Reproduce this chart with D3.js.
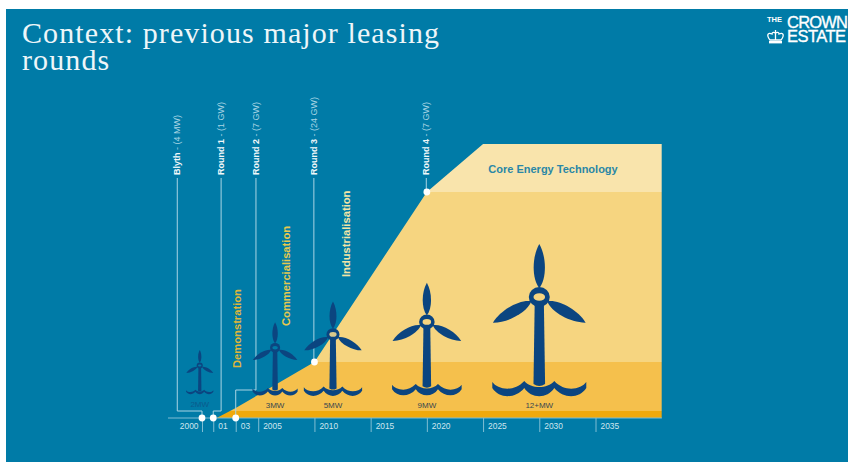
<!DOCTYPE html>
<html><head><meta charset="utf-8">
<style>html,body{margin:0;padding:0;background:#fff}svg{display:block}</style>
<script src="https://cdn.jsdelivr.net/npm/d3@7/dist/d3.min.js"></script></head>
<body><svg id="c" width="848" height="462"></svg>
<script>
// --- data ---
const tickYears = [2000, 2001, 2003, 2005, 2010, 2015, 2020, 2025, 2030, 2035];
const tickLabels = ["2000", "01", "03", "2005", "2010", "2015", "2020", "2025", "2030", "2035"];
const curveYears = [2001.3, 2003, 2010, 2020, 2025, 2040.9];
const curveLevel = [0, 10, 56, 226, 274, 274];
const bandTops = [7, 56, 226, 274];
const rounds = ["Blyth", "Round 1", "Round 2", "Round 3", "Round 4"];
const roundSizes = ["(4 MW)", "(1 GW)", "(7 GW)", "(24 GW)", "(7 GW)"];
const roundYears = [2000, 2001, 2003, 2010, 2020];
const roundLevels = [0, 0, 0, 56, 226];
const roundLabelYears = [1997.8, 2001.7, 2004.8, 2009.95, 2019.95];
const phases = ["Demonstration", "Commercialisation", "Industrialisation"];
const phaseYears = [2003.47, 2007.8, 2013.16];
const phaseLevels = [50, 92, 141];
const turbineYears = [1999.8, 2006.5, 2011.65, 2020, 2030];
const turbineLabels = ["2MW", "3MW", "5MW", "9MW", "12+MW"];
const turbineMW = [2, 3, 5, 9, 12];
const turbineRelSize = [0.29, 0.48, 0.62, 0.74, 1];
const turbineBaseLevels = [27, 28, 29, 31, 33];

const bandColors = ["#f0a90c", "#f5c04c", "#f6d580", "#f9e4ac"];
const bg = "#007ba7", navy = "#0b4580", lead = "#a9d5e4";
const sans = "'Liberation Sans',Arial,sans-serif";

const svg = d3.select("#c");
const x = d3.scaleLinear().domain([2000, 2035]).range([202, 595.5]);
const y = d3.scaleLinear().domain([0, 274]).range([418, 144]);
const size = d3.scaleLinear().domain(turbineMW).range(turbineRelSize);
const rightEdge = x(2040.9);

svg.append("rect").attr("x", 6).attr("y", 9).attr("width", 842).attr("height", 453).attr("fill", bg);

// title
const title = svg.append("text").attr("fill", "#eef6f9").attr("font-family", "'Liberation Serif',serif")
  .attr("font-size", 30).attr("letter-spacing", 1.1);
title.append("tspan").attr("x", 22).attr("y", 42.7).text("Context: previous major leasing");
title.append("tspan").attr("x", 22).attr("y", 69.5).text("rounds");

// logo
const logo = svg.append("g").attr("fill", "#fff").attr("font-family", sans);
logo.append("text").attr("x", 767).attr("y", 22).attr("font-size", 7.5).attr("font-weight", 700).text("THE");
logo.append("text").attr("x", 787).attr("y", 28).attr("font-size", 16.5).attr("stroke", "#fff").attr("stroke-width", 0.35).attr("textLength", 61).text("CROWN");
logo.append("text").attr("x", 787).attr("y", 42).attr("font-size", 16.5).attr("stroke", "#fff").attr("stroke-width", 0.35).attr("textLength", 59).text("ESTATE");
logo.append("path").attr("fill", "none").attr("stroke", "#fff").attr("stroke-width", 1.3)
  .attr("d", "M770,40 C766,35 768,32 772,34 C772,32 774,32 775.5,33 C777,32 779,32 779,34 C783,32 785,35 781,40Z M775.5,33 V40 M775.5,30 V33");
logo.append("rect").attr("x", 769).attr("y", 41).attr("width", 13).attr("height", 2.4);

// bands clipped to the curve
const area = d3.area().x((d, i) => x(curveYears[i])).y0(y(0)).y1(d => y(d));
svg.append("clipPath").attr("id", "curve").append("path").attr("d", area(curveLevel));
const gBands = svg.append("g").attr("clip-path", "url(#curve)");
bandTops.forEach((t, i) => {
  const lo = i ? bandTops[i - 1] : 0;
  gBands.append("rect").attr("x", x(2000)).attr("width", rightEdge - x(2000))
    .attr("y", y(t)).attr("height", y(lo) - y(t)).attr("fill", bandColors[i]);
});
svg.append("text").attr("x", 553).attr("y", 172.7).attr("text-anchor", "middle").attr("fill", "#2a87a6")
  .attr("font-family", sans).attr("font-weight", 700).attr("font-size", 11).text("Core Energy Technology");

// axis
const axis = d3.axisBottom(x).tickValues(tickYears).tickSize(14).tickFormat((d, i) => tickLabels[i]);
const gx = svg.append("g").attr("transform", `translate(0,${y(0)})`).call(axis);
gx.select(".domain").remove();
gx.selectAll("line").attr("stroke", "#7fbdd3");
gx.selectAll("text").attr("fill", "#cfe6ee").attr("font-family", sans).attr("font-size", 8.4)
  .attr("y", 11).attr("dy", 0)
  .attr("text-anchor", d => d === 2000 ? "end" : "start")
  .attr("x", d => d === 2000 ? -4 : 4.5);
svg.append("line").attr("x1", 168).attr("x2", rightEdge).attr("y1", y(0)).attr("y2", y(0)).attr("stroke", "#7fbdd3");

// leader lines and round labels
const line = d3.line();
roundYears.forEach((yr, i) => {
  const px = x(yr), py = y(roundLevels[i]), lx = x(roundLabelYears[i]);
  const topY = 178;
  const elbowY = i === 2 ? 390 : 411;
  const pts = i < 3 ? [[lx, topY], [lx, elbowY], [px, elbowY], [px, py]] : [[lx, topY], [lx, py]];
  svg.append("path").attr("d", line(pts)).attr("fill", "none").attr("stroke", lead).attr("stroke-width", 1);
  const t = svg.append("text").attr("transform", `translate(${lx + 3.2},175) rotate(-90)`).attr("font-family", sans).attr("font-size", 9);
  t.append("tspan").attr("fill", "#f2f8fa").attr("font-weight", 700).text(rounds[i]);
  t.append("tspan").attr("fill", "#a9d5e4").text(" - " + roundSizes[i]);
});

// turbines
const blade = "M0,-9 C7.5,-18 7.5,-40 0,-53 C-7.5,-40 -7.5,-18 0,-9Z";
const wave = "M-47,-3 C-42,4 -26,8 -15,-4 C-8,4 8,4 15,-4 C26,8 42,4 47,-3 L47,3 C40,14 24,14 15,3 C8,14 -8,14 -15,3 C-24,14 -40,14 -47,3Z";
turbineMW.forEach((mw, i) => {
  const s = size(mw), cx = x(turbineYears[i]), base = y(turbineBaseLevels[i]);
  const g = svg.append("g").attr("transform", `translate(${cx},${base}) scale(${s})`);
  const hub = -88;
  g.append("path").attr("d", `M-4.5,${hub} L4.5,${hub} L5.8,-1 Q0,3 -5.8,-1Z`).attr("fill", navy);
  g.append("path").attr("d", wave).attr("fill", navy);
  [0, 119, -119].forEach(a => g.append("path").attr("d", blade)
    .attr("transform", `translate(0,${hub}) rotate(${a})`).attr("fill", navy));
  g.append("ellipse").attr("cy", hub).attr("rx", 10.5).attr("ry", 10).attr("fill", navy);
  g.append("ellipse").attr("cy", hub).attr("rx", 5.8).attr("ry", 3.8)
    .attr("fill", i < 2 ? bg : i === 2 ? "#d8c98c" : bandColors[2]);
});
svg.selectAll(".tl").data(turbineLabels).join("text").attr("class", "tl")
  .attr("x", (d, i) => x(turbineYears[i])).attr("y", (d, i) => i === 0 ? 406.7 : 407.7)
  .attr("text-anchor", "middle").attr("font-family", sans).attr("font-size", 8)
  .attr("fill", (d, i) => i === 0 ? "#0b5a8c" : "#38474f").text(d => d);

// round markers on top
roundYears.forEach((yr, i) => {
  svg.append("circle").attr("cx", x(yr)).attr("cy", y(roundLevels[i])).attr("r", 3.4).attr("fill", "#fff");
});

// phases
const phaseColors = ["#dfb63a", "#e6c94e", "#f2e5a6"];
phases.forEach((p, i) => {
  svg.append("text").attr("transform", `translate(${x(phaseYears[i])},${y(phaseLevels[i])}) rotate(-90)`)
    .attr("font-family", sans).attr("font-weight", 700).attr("font-size", 11.2).attr("fill", phaseColors[i]).text(p);
});
</script></body></html>
